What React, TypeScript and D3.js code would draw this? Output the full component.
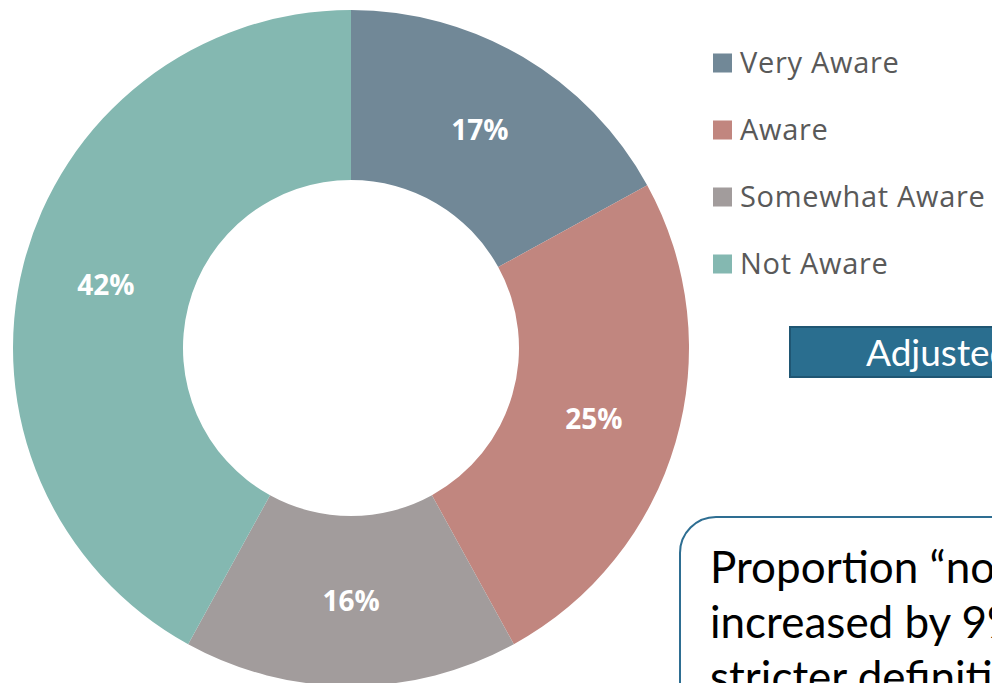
import * as d3 from "d3";
import {useRef, useEffect} from "react";

// data
const categories = ["Very Aware", "Aware", "Somewhat Aware", "Not Aware"];
const values = [17, 25, 16, 42];
const colors = ["#718897", "#c1867f", "#a29c9c", "#84b8b1"];
const noteLines = ["Proportion \u201cnot aware\u201d", "increased by 9% with", "stricter definition"];
const bannerText = "Adjusted definition";

const W = 992;
const H = 683;

const App = () => {
    const chartRef = useRef<SVGSVGElement | null>(null);

    useEffect(() => {
        const svg = d3.select(chartRef.current);
        svg.selectAll("*").remove();

        // donut
        const cx = 351, cy = 348;
        const outerR = 338, innerR = 168;

        const pie = d3.pie<number>().sort(null).value(d => d);
        const arc = d3.arc<d3.PieArcDatum<number>>().innerRadius(innerR).outerRadius(outerR);
        const labelArc = d3.arc<d3.PieArcDatum<number>>()
            .innerRadius((innerR + outerR) / 2)
            .outerRadius((innerR + outerR) / 2);

        const color = d3.scaleOrdinal<string, string>().domain(categories).range(colors);
        const arcs = pie(values);

        const g = svg.append("g").attr("transform", `translate(${cx},${cy})`);
        g.selectAll("path")
            .data(arcs)
            .enter()
            .append("path")
            .attr("d", arc)
            .style("fill", (d, i) => color(categories[i]));

        g.selectAll("text")
            .data(arcs)
            .enter()
            .append("text")
            .attr("transform", d => `translate(${labelArc.centroid(d)})`)
            .attr("text-anchor", "middle")
            .attr("dy", "0.36em")
            .style("font-family", "'Open Sans', sans-serif")
            .style("font-weight", "700")
            .style("font-size", "28px")
            .style("fill", "#ffffff")
            .text(d => `${d.data}%`);

        // legend
        const legendY = d3.scaleBand().domain(categories).range([29, 297]);
        const leg = svg.append("g");
        const rows = leg.selectAll("g")
            .data(categories)
            .enter()
            .append("g")
            .attr("transform", d => `translate(713, ${legendY(d)! + legendY.bandwidth() / 2})`);
        rows.append("rect")
            .attr("x", 0)
            .attr("y", -9)
            .attr("width", 19)
            .attr("height", 19)
            .style("fill", d => color(d));
        rows.append("text")
            .attr("x", 27)
            .attr("dy", "0.37em")
            .style("font-family", "'Open Sans', sans-serif")
            .style("font-size", "29px")
            .style("letter-spacing", "0.7px")
            .style("fill", "#595959")
            .text(d => d);

        // banner
        svg.append("rect")
            .attr("x", 790)
            .attr("y", 327)
            .attr("width", 260)
            .attr("height", 50)
            .style("fill", "#2a6e8f")
            .style("stroke", "#1f5673")
            .style("stroke-width", 2);
        svg.append("text")
            .attr("x", 866)
            .attr("y", 366)
            .style("font-family", "Lato, sans-serif")
            .style("font-size", "37px")
            .style("fill", "#ffffff")
            .text(bannerText);

        // note box
        svg.append("rect")
            .attr("x", 680)
            .attr("y", 517)
            .attr("width", 400)
            .attr("height", 260)
            .attr("rx", 36)
            .style("fill", "#ffffff")
            .style("stroke", "#2e6e92")
            .style("stroke-width", 2);
        svg.append("g")
            .selectAll("text")
            .data(noteLines)
            .enter()
            .append("text")
            .attr("x", 710)
            .attr("y", (d, i) => 583 + i * 55)
            .style("font-family", "Lato, sans-serif")
            .style("font-size", "44px")
            .style("fill", "#000000")
            .text(d => d);
    }, []);

    return (
        <div style={{width: W, height: H, overflow: "hidden"}}>
            <style>{`body{margin:0;overflow:hidden;}`}</style>
            <svg ref={chartRef} width={W} height={H} style={{display: "block", background: "#ffffff"}}></svg>
        </div>
    );
};

export default App;
